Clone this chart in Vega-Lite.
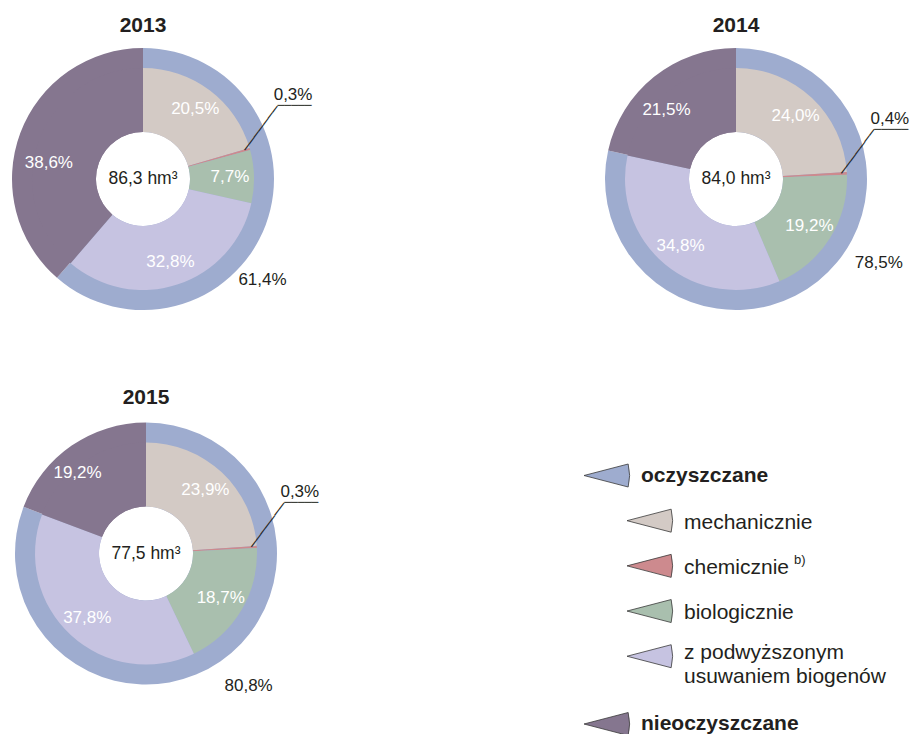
{
  "$schema": "https://vega.github.io/schema/vega-lite/v6.json",
  "padding": {"left": 3, "top": 14, "right": 0, "bottom": 0},
  "columns": 2,
  "spacing": {"row": 94.5, "column": 307},
  "bounds": "flush",
  "datasets": {
    "shares": [
      {"year": 2013, "category": "mechanicznie", "k": 1, "share": 0.205},
      {"year": 2013, "category": "chemicznie", "k": 2, "share": 0.003},
      {"year": 2013, "category": "biologicznie", "k": 3, "share": 0.077},
      {"year": 2013, "category": "z podwyższonym usuwaniem biogenów", "k": 4, "share": 0.328},
      {"year": 2013, "category": "nieoczyszczane", "k": 5, "share": 0.386},
      {"year": 2014, "category": "mechanicznie", "k": 1, "share": 0.240},
      {"year": 2014, "category": "chemicznie", "k": 2, "share": 0.004},
      {"year": 2014, "category": "biologicznie", "k": 3, "share": 0.192},
      {"year": 2014, "category": "z podwyższonym usuwaniem biogenów", "k": 4, "share": 0.348},
      {"year": 2014, "category": "nieoczyszczane", "k": 5, "share": 0.215},
      {"year": 2015, "category": "mechanicznie", "k": 1, "share": 0.239},
      {"year": 2015, "category": "chemicznie", "k": 2, "share": 0.003},
      {"year": 2015, "category": "biologicznie", "k": 3, "share": 0.187},
      {"year": 2015, "category": "z podwyższonym usuwaniem biogenów", "k": 4, "share": 0.378},
      {"year": 2015, "category": "nieoczyszczane", "k": 5, "share": 0.192}
    ],
    "rings": [
      {"year": 2013, "category": "oczyszczane", "k": 1, "share": 0.614},
      {"year": 2013, "category": "nieoczyszczane", "k": 2, "share": 0.386},
      {"year": 2014, "category": "oczyszczane", "k": 1, "share": 0.785},
      {"year": 2014, "category": "nieoczyszczane", "k": 2, "share": 0.215},
      {"year": 2015, "category": "oczyszczane", "k": 1, "share": 0.808},
      {"year": 2015, "category": "nieoczyszczane", "k": 2, "share": 0.192}
    ],
    "years": [
      {"year": 2013, "volume": 86.3},
      {"year": 2014, "volume": 84.0},
      {"year": 2015, "volume": 77.5}
    ],
    "legend": [
      {"category": "oczyszczane", "level": 0, "line1": "oczyszczane"},
      {"category": "mechanicznie", "level": 1, "line1": "mechanicznie"},
      {"category": "chemicznie", "level": 1, "line1": "chemicznie", "note": "b)"},
      {"category": "biologicznie", "level": 1, "line1": "biologicznie"},
      {"category": "z podwyższonym usuwaniem biogenów", "level": 1, "line1": "z podwyższonym", "line2": "usuwaniem biogenów"},
      {"category": "nieoczyszczane", "level": 0, "line1": "nieoczyszczane"}
    ]
  },
  "concat": [
    {
      "width": 280, "height": 280,
      "title": {"text": "2013"},
      "layer": [
        {"data": {"name": "rings"}, "transform": [{"filter": "datum.year === 2013"}],
         "mark": {"type": "arc", "radius": 131, "innerRadius": 47},
         "encoding": {"theta": {"field": "share", "type": "quantitative", "stack": true}, "order": {"field": "k", "type": "quantitative"},
           "color": {"field": "category", "type": "nominal", "legend": null, "scale": {"domain": ["oczyszczane","mechanicznie","chemicznie","biologicznie","z podwyższonym usuwaniem biogenów","nieoczyszczane"], "range": ["#9eaccf","#d3cac5","#cd8a8e","#a9bfae","#c6c3e1","#85768f"]}}}},
        {"data": {"name": "shares"}, "transform": [{"filter": "datum.year === 2013"}],
         "mark": {"type": "arc", "radius": 111, "innerRadius": 47},
         "encoding": {"theta": {"field": "share", "type": "quantitative", "stack": true}, "order": {"field": "k", "type": "quantitative"},
           "color": {"field": "category", "type": "nominal", "legend": null}}},
        {"data": {"name": "shares"}, "transform": [{"filter": "datum.year === 2013"}],
         "mark": {"type": "text", "radius": 87, "color": "#ffffff"},
         "encoding": {"theta": {"field": "share", "type": "quantitative", "stack": true}, "order": {"field": "k", "type": "quantitative"},
           "size": {"condition": {"test": "datum.k === 2 || datum.k === 5", "value": 0}, "value": 17},
           "text": {"condition": {"test": "datum.k === 2 || datum.k === 5", "value": ""}, "field": "share", "type": "quantitative", "format": ".1%"}}},
        {"data": {"name": "shares"}, "transform": [{"filter": "datum.year === 2013"}],
         "mark": {"type": "text", "radius": 96, "dx": -4, "dy": 17, "color": "#ffffff"},
         "encoding": {"theta": {"field": "share", "type": "quantitative", "stack": true}, "order": {"field": "k", "type": "quantitative"},
           "size": {"condition": {"test": "datum.k !== 5", "value": 0}, "value": 17},
           "text": {"condition": {"test": "datum.k !== 5", "value": ""}, "field": "share", "type": "quantitative", "format": ".1%"}}},
        {"data": {"name": "shares"}, "transform": [{"filter": "datum.year === 2013"}],
         "mark": {"type": "text", "radius": 106, "dx": 48, "dy": -55, "color": "#231f20"},
         "encoding": {"theta": {"field": "share", "type": "quantitative", "stack": true}, "order": {"field": "k", "type": "quantitative"},
           "size": {"condition": {"test": "datum.k !== 2", "value": 0}, "value": 17},
           "text": {"condition": {"test": "datum.k !== 2", "value": ""}, "field": "share", "type": "quantitative", "format": ".1%"}}},
        {"data": {"name": "shares"}, "transform": [{"filter": "datum.year === 2013"}],
         "mark": {"type": "text", "radius": 106, "angle": -53.5, "align": "left", "baseline": "middle", "font": "DejaVu Sans Mono", "color": "#231f20"},
         "encoding": {"theta": {"field": "share", "type": "quantitative", "stack": true}, "order": {"field": "k", "type": "quantitative"},
           "size": {"condition": {"test": "datum.k === 2", "value": 13}, "value": 0},
           "text": {"condition": {"test": "datum.k === 2", "value": "───────"}, "value": ""}}},
        {"data": {"name": "shares"}, "transform": [{"filter": "datum.year === 2013"}],
         "mark": {"type": "text", "radius": 106, "dx": 32.5, "dy": -44, "align": "left", "baseline": "middle", "font": "DejaVu Sans Mono", "color": "#231f20"},
         "encoding": {"theta": {"field": "share", "type": "quantitative", "stack": true}, "order": {"field": "k", "type": "quantitative"},
           "size": {"condition": {"test": "datum.k === 2", "value": 11.3}, "value": 0},
           "text": {"condition": {"test": "datum.k === 2", "value": "─────"}, "value": ""}}},
        {"data": {"name": "years"}, "transform": [{"filter": "datum.year === 2013"}],
         "mark": {"type": "text", "fontSize": 17.5, "color": "#231f20"},
         "encoding": {"text": {"field": "volume", "type": "quantitative", "format": "$.1f"}}},
        {"data": {"name": "rings"}, "transform": [{"filter": "datum.year === 2013 && datum.k === 1"}],
         "mark": {"type": "text", "radius": 150, "dx": -21, "dy": 48.7, "fontSize": 17, "color": "#231f20"},
         "encoding": {"theta": {"field": "share", "type": "quantitative", "stack": true}, "order": {"field": "k", "type": "quantitative"},
           "text": {"field": "share", "type": "quantitative", "format": ".1%"}}}
      ]
    },
    {
      "width": 280, "height": 280,
      "title": {"text": "2014"},
      "layer": [
        {"data": {"name": "rings"}, "transform": [{"filter": "datum.year === 2014"}],
         "mark": {"type": "arc", "radius": 131, "innerRadius": 47},
         "encoding": {"theta": {"field": "share", "type": "quantitative", "stack": true}, "order": {"field": "k", "type": "quantitative"},
           "color": {"field": "category", "type": "nominal", "legend": null, "scale": {"domain": ["oczyszczane","mechanicznie","chemicznie","biologicznie","z podwyższonym usuwaniem biogenów","nieoczyszczane"], "range": ["#9eaccf","#d3cac5","#cd8a8e","#a9bfae","#c6c3e1","#85768f"]}}}},
        {"data": {"name": "shares"}, "transform": [{"filter": "datum.year === 2014"}],
         "mark": {"type": "arc", "radius": 111, "innerRadius": 47},
         "encoding": {"theta": {"field": "share", "type": "quantitative", "stack": true}, "order": {"field": "k", "type": "quantitative"},
           "color": {"field": "category", "type": "nominal", "legend": null}}},
        {"data": {"name": "shares"}, "transform": [{"filter": "datum.year === 2014"}],
         "mark": {"type": "text", "radius": 87, "color": "#ffffff"},
         "encoding": {"theta": {"field": "share", "type": "quantitative", "stack": true}, "order": {"field": "k", "type": "quantitative"},
           "size": {"condition": {"test": "datum.k === 2 || datum.k === 5", "value": 0}, "value": 17},
           "text": {"condition": {"test": "datum.k === 2 || datum.k === 5", "value": ""}, "field": "share", "type": "quantitative", "format": ".1%"}}},
        {"data": {"name": "shares"}, "transform": [{"filter": "datum.year === 2014"}],
         "mark": {"type": "text", "radius": 96, "dx": -9, "dy": 6, "color": "#ffffff"},
         "encoding": {"theta": {"field": "share", "type": "quantitative", "stack": true}, "order": {"field": "k", "type": "quantitative"},
           "size": {"condition": {"test": "datum.k !== 5", "value": 0}, "value": 17},
           "text": {"condition": {"test": "datum.k !== 5", "value": ""}, "field": "share", "type": "quantitative", "format": ".1%"}}},
        {"data": {"name": "shares"}, "transform": [{"filter": "datum.year === 2014"}],
         "mark": {"type": "text", "radius": 106, "dx": 48, "dy": -55, "color": "#231f20"},
         "encoding": {"theta": {"field": "share", "type": "quantitative", "stack": true}, "order": {"field": "k", "type": "quantitative"},
           "size": {"condition": {"test": "datum.k !== 2", "value": 0}, "value": 17},
           "text": {"condition": {"test": "datum.k !== 2", "value": ""}, "field": "share", "type": "quantitative", "format": ".1%"}}},
        {"data": {"name": "shares"}, "transform": [{"filter": "datum.year === 2014"}],
         "mark": {"type": "text", "radius": 106, "angle": -53.5, "align": "left", "baseline": "middle", "font": "DejaVu Sans Mono", "color": "#231f20"},
         "encoding": {"theta": {"field": "share", "type": "quantitative", "stack": true}, "order": {"field": "k", "type": "quantitative"},
           "size": {"condition": {"test": "datum.k === 2", "value": 13}, "value": 0},
           "text": {"condition": {"test": "datum.k === 2", "value": "───────"}, "value": ""}}},
        {"data": {"name": "shares"}, "transform": [{"filter": "datum.year === 2014"}],
         "mark": {"type": "text", "radius": 106, "dx": 32.5, "dy": -44, "align": "left", "baseline": "middle", "font": "DejaVu Sans Mono", "color": "#231f20"},
         "encoding": {"theta": {"field": "share", "type": "quantitative", "stack": true}, "order": {"field": "k", "type": "quantitative"},
           "size": {"condition": {"test": "datum.k === 2", "value": 11.3}, "value": 0},
           "text": {"condition": {"test": "datum.k === 2", "value": "─────"}, "value": ""}}},
        {"data": {"name": "years"}, "transform": [{"filter": "datum.year === 2014"}],
         "mark": {"type": "text", "fontSize": 17.5, "color": "#231f20"},
         "encoding": {"text": {"field": "volume", "type": "quantitative", "format": "$.1f"}}},
        {"data": {"name": "rings"}, "transform": [{"filter": "datum.year === 2014 && datum.k === 1"}],
         "mark": {"type": "text", "radius": 150, "dx": 49, "dy": -33, "fontSize": 17, "color": "#231f20"},
         "encoding": {"theta": {"field": "share", "type": "quantitative", "stack": true}, "order": {"field": "k", "type": "quantitative"},
           "text": {"field": "share", "type": "quantitative", "format": ".1%"}}}
      ]
    },
    {
      "width": 286, "height": 280,
      "title": {"text": "2015"},
      "layer": [
        {"data": {"name": "rings"}, "transform": [{"filter": "datum.year === 2015"}],
         "mark": {"type": "arc", "radius": 131, "innerRadius": 47},
         "encoding": {"theta": {"field": "share", "type": "quantitative", "stack": true}, "order": {"field": "k", "type": "quantitative"},
           "color": {"field": "category", "type": "nominal", "legend": null, "scale": {"domain": ["oczyszczane","mechanicznie","chemicznie","biologicznie","z podwyższonym usuwaniem biogenów","nieoczyszczane"], "range": ["#9eaccf","#d3cac5","#cd8a8e","#a9bfae","#c6c3e1","#85768f"]}}}},
        {"data": {"name": "shares"}, "transform": [{"filter": "datum.year === 2015"}],
         "mark": {"type": "arc", "radius": 111, "innerRadius": 47},
         "encoding": {"theta": {"field": "share", "type": "quantitative", "stack": true}, "order": {"field": "k", "type": "quantitative"},
           "color": {"field": "category", "type": "nominal", "legend": null}}},
        {"data": {"name": "shares"}, "transform": [{"filter": "datum.year === 2015"}],
         "mark": {"type": "text", "radius": 87, "color": "#ffffff"},
         "encoding": {"theta": {"field": "share", "type": "quantitative", "stack": true}, "order": {"field": "k", "type": "quantitative"},
           "size": {"condition": {"test": "datum.k === 2 || datum.k === 5", "value": 0}, "value": 17},
           "text": {"condition": {"test": "datum.k === 2 || datum.k === 5", "value": ""}, "field": "share", "type": "quantitative", "format": ".1%"}}},
        {"data": {"name": "shares"}, "transform": [{"filter": "datum.year === 2015"}],
         "mark": {"type": "text", "radius": 96, "dx": -13.5, "dy": -2, "color": "#ffffff"},
         "encoding": {"theta": {"field": "share", "type": "quantitative", "stack": true}, "order": {"field": "k", "type": "quantitative"},
           "size": {"condition": {"test": "datum.k !== 5", "value": 0}, "value": 17},
           "text": {"condition": {"test": "datum.k !== 5", "value": ""}, "field": "share", "type": "quantitative", "format": ".1%"}}},
        {"data": {"name": "shares"}, "transform": [{"filter": "datum.year === 2015"}],
         "mark": {"type": "text", "radius": 106, "dx": 48, "dy": -55, "color": "#231f20"},
         "encoding": {"theta": {"field": "share", "type": "quantitative", "stack": true}, "order": {"field": "k", "type": "quantitative"},
           "size": {"condition": {"test": "datum.k !== 2", "value": 0}, "value": 17},
           "text": {"condition": {"test": "datum.k !== 2", "value": ""}, "field": "share", "type": "quantitative", "format": ".1%"}}},
        {"data": {"name": "shares"}, "transform": [{"filter": "datum.year === 2015"}],
         "mark": {"type": "text", "radius": 106, "angle": -53.5, "align": "left", "baseline": "middle", "font": "DejaVu Sans Mono", "color": "#231f20"},
         "encoding": {"theta": {"field": "share", "type": "quantitative", "stack": true}, "order": {"field": "k", "type": "quantitative"},
           "size": {"condition": {"test": "datum.k === 2", "value": 13}, "value": 0},
           "text": {"condition": {"test": "datum.k === 2", "value": "───────"}, "value": ""}}},
        {"data": {"name": "shares"}, "transform": [{"filter": "datum.year === 2015"}],
         "mark": {"type": "text", "radius": 106, "dx": 32.5, "dy": -44, "align": "left", "baseline": "middle", "font": "DejaVu Sans Mono", "color": "#231f20"},
         "encoding": {"theta": {"field": "share", "type": "quantitative", "stack": true}, "order": {"field": "k", "type": "quantitative"},
           "size": {"condition": {"test": "datum.k === 2", "value": 11.3}, "value": 0},
           "text": {"condition": {"test": "datum.k === 2", "value": "─────"}, "value": ""}}},
        {"data": {"name": "years"}, "transform": [{"filter": "datum.year === 2015"}],
         "mark": {"type": "text", "fontSize": 17.5, "color": "#231f20"},
         "encoding": {"text": {"field": "volume", "type": "quantitative", "format": "$.1f"}}},
        {"data": {"name": "rings"}, "transform": [{"filter": "datum.year === 2015 && datum.k === 1"}],
         "mark": {"type": "text", "radius": 150, "dx": 17.5, "dy": 8.8, "fontSize": 17, "color": "#231f20"},
         "encoding": {"theta": {"field": "share", "type": "quantitative", "stack": true}, "order": {"field": "k", "type": "quantitative"},
           "text": {"field": "share", "type": "quantitative", "format": ".1%"}}}
      ]
    },
    {
      "width": 280, "height": 280,
      "data": {"name": "legend"},
      "encoding": {
        "x": {"field": "level", "type": "quantitative", "axis": null, "scale": {"domain": [0, 1], "range": [11, 54]}},
        "y": {"field": "category", "type": "nominal", "axis": null, "scale": {"type": "point", "padding": 0, "domain": ["oczyszczane","_g1","mechanicznie","_g2","chemicznie","_g3","biologicznie","_g4","z podwyższonym usuwaniem biogenów","_g5","_g6","nieoczyszczane"], "range": [62, 310.5]}}
      },
      "layer": [
        {"mark": {"type": "point", "shape": "M-1,0L0.92,-0.5Q1.05,0 0.92,0.5Z", "size": 2116, "filled": true, "opacity": 1, "stroke": "#3a3a3a", "strokeWidth": 0.8},
         "encoding": {"color": {"field": "category", "type": "nominal", "legend": null, "scale": {"domain": ["oczyszczane","mechanicznie","chemicznie","biologicznie","z podwyższonym usuwaniem biogenów","nieoczyszczane"], "range": ["#9eaccf","#d3cac5","#cd8a8e","#a9bfae","#c6c3e1","#85768f"]}}}},
        {"transform": [{"filter": "datum.level === 0"}],
         "mark": {"type": "text", "align": "left", "dx": 34, "fontSize": 21, "fontWeight": "bold", "color": "#231f20"},
         "encoding": {"text": {"field": "line1", "type": "nominal"}}},
        {"transform": [{"filter": "datum.level === 1 && !isValid(datum.line2)"}],
         "mark": {"type": "text", "align": "left", "dx": 34, "dy": 2, "fontSize": 21, "color": "#231f20"},
         "encoding": {"text": {"field": "line1", "type": "nominal"}}},
        {"transform": [{"filter": "isValid(datum.line2)"}],
         "mark": {"type": "text", "align": "left", "dx": 34, "dy": -3, "fontSize": 21, "color": "#231f20"},
         "encoding": {"text": {"field": "line1", "type": "nominal"}}},
        {"transform": [{"filter": "isValid(datum.line2)"}],
         "mark": {"type": "text", "align": "left", "dx": 34, "dy": 21, "fontSize": 21, "color": "#231f20"},
         "encoding": {"text": {"field": "line2", "type": "nominal"}}},
        {"transform": [{"filter": "isValid(datum.note)"}],
         "mark": {"type": "text", "align": "left", "dx": 144, "dy": -6, "fontSize": 13, "color": "#231f20"},
         "encoding": {"text": {"field": "note", "type": "nominal"}}}
      ]
    }
  ],
  "config": {
    "font": "Liberation Sans",
    "view": {"stroke": null},
    "title": {"fontSize": 21, "fontWeight": "bold", "color": "#231f20", "offset": 3.5, "anchor": "middle"},
    "locale": {"number": {"decimal": ",", "thousands": " ", "grouping": [3], "currency": ["", " hm³"]}}
  }
}
